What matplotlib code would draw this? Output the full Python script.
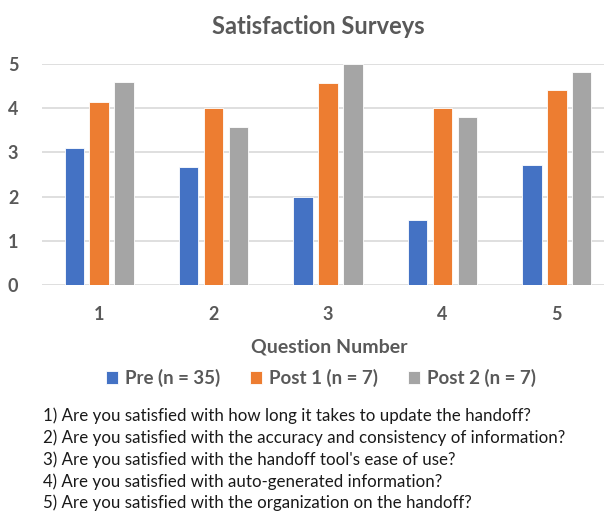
import matplotlib
matplotlib.use("Agg")
import matplotlib.pyplot as plt
import numpy as np

# survey means per question
questions = ["1", "2", "3", "4", "5"]
pre = [3.11, 2.68, 1.99, 1.47, 2.71]
post1 = [4.13, 4.01, 4.56, 4.00, 4.42]
post2 = [4.60, 3.58, 5.00, 3.80, 4.82]
series_labels = ["Pre (n = 35)", "Post 1 (n = 7)", "Post 2 (n = 7)"]
question_text = [
    "1) Are you satisfied with how long it takes to update the handoff?",
    "2) Are you satisfied with the accuracy and consistency of information?",
    "3) Are you satisfied with the handoff tool's ease of use?",
    "4) Are you satisfied with auto-generated information?",
    "5) Are you satisfied with the organization on the handoff?",
]

colors = ["#4472C4", "#ED7D31", "#A5A5A5"]
gray = "#595959"
plt.rcParams["font.family"] = ["Lato", "DejaVu Sans"]

W, H = 604, 514
fig = plt.figure(figsize=(W / 100, H / 100), dpi=100)
ax = fig.add_axes([42 / W, 1 - 285 / H, (614 - 42) / W, (285 - 64) / H])

x = np.arange(1, len(questions) + 1)
step = 0.218
width = 0.17
for i, (vals, lbl) in enumerate(zip([pre, post1, post2], series_labels)):
    ax.bar(x + (i - 1) * step, vals, width, color=colors[i], label=lbl,
           edgecolor="white", linewidth=0.6, zorder=3)

ax.set_xlim(0.5, 5.5)
ax.set_ylim(0, 5)
ax.set_xticks(x)
ax.set_xticklabels(questions)
ax.set_yticks(range(6))
ax.grid(axis="y", color="#D9D9D9", linewidth=1.2, zorder=0)
for s in ax.spines.values():
    s.set_visible(False)
ax.tick_params(length=0, labelsize=13, labelcolor=gray)
ax.tick_params(axis="x", pad=15)
ax.tick_params(axis="y", pad=17)
for t in ax.get_xticklabels() + ax.get_yticklabels():
    t.set_fontweight("bold")

fig.text(318 / W, 1 - 27 / H, "Satisfaction Surveys", ha="center", va="center",
         fontsize=17, fontweight="bold", color=gray)
fig.text(329 / W, 1 - 347 / H, "Question Number", ha="center", va="center",
         fontsize=14, fontweight="bold", color=gray)

handles, labels = ax.get_legend_handles_labels()
fig.legend(handles, labels, loc="center", bbox_to_anchor=(321 / W, 1 - 378 / H),
           ncol=3, frameon=False, handlelength=0.65, handleheight=0.65,
           handletextpad=0.35, columnspacing=1.6,
           prop={"size": 13.5, "weight": "bold"}, labelcolor=gray)

for i, line in enumerate(question_text):
    fig.text(43 / W, 1 - (416 + i * 21.8) / H, line, ha="left", va="center",
             fontsize=12.2, color="#1a1a1a")

fig.savefig("out.png", dpi=100)
